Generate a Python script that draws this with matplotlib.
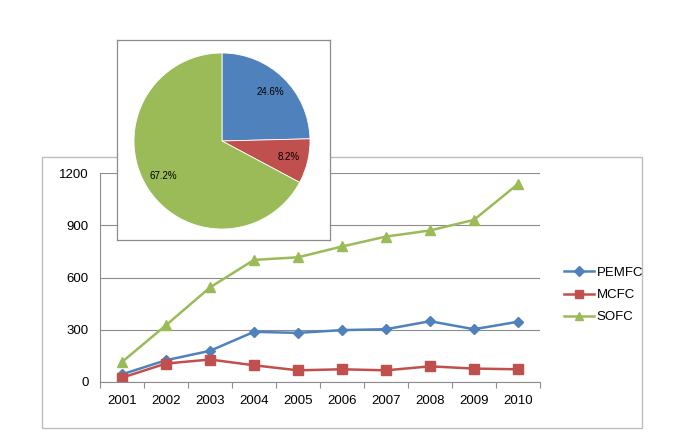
import matplotlib.pyplot as plt
from matplotlib.lines import Line2D
from matplotlib.patches import Rectangle

years = ["2001", "2002", "2003", "2004", "2005", "2006", "2007", "2008", "2009", "2010"]
pemfc = [44, 125, 179, 288, 282, 298, 303, 349, 303, 346]
mcfc = [25, 106, 129, 96, 67, 73, 67, 90, 77, 73]
sofc = [115, 326, 543, 701, 716, 778, 835, 870, 931, 1137]

pie_labels = ["PEMFC", "MCFC", "SOFC"]
pie_shares = [24.6, 8.2, 67.2]

BLUE = "#4f81bd"
RED = "#c0504d"
GREEN = "#9bbb59"
W, H = 674, 443

plt.rcParams["font.family"] = ["Liberation Sans", "DejaVu Sans"]

fig = plt.figure(figsize=(W / 100, H / 100), dpi=100)


def fx(px):
    return px / W


def fy(py):
    return 1 - py / H


# outer chart frame, kept behind the inset pie box
fig.patches.append(Rectangle((fx(42), fy(428)), fx(642) - fx(42), fy(157) - fy(428),
                             transform=fig.transFigure, fill=False, edgecolor="#bdbdbd",
                             lw=1.0, zorder=-1))

ax = fig.add_axes([fx(100), fy(382), fx(540) - fx(100), fy(173) - fy(382)])
ax.patch.set_alpha(0)
x = list(range(len(years)))
ax.plot(x, pemfc, color=BLUE, lw=1.8, marker="D", ms=5.5, label="PEMFC")
ax.plot(x, mcfc, color=RED, lw=1.8, marker="s", ms=6.5, label="MCFC")
ax.plot(x, sofc, color=GREEN, lw=1.8, marker="^", ms=6.5, label="SOFC")

ax.set_xlim(-0.5, len(years) - 0.5)
ax.set_ylim(0, 1200)
ax.set_yticks([0, 300, 600, 900, 1200])
ax.yaxis.grid(True, color="#8c8c8c", lw=0.8)
ax.set_axisbelow(True)
ax.set_xticks([i - 0.5 for i in range(len(years) + 1)])
ax.set_xticklabels([])
ax.set_xticks(x, minor=True)
ax.set_xticklabels(years, minor=True)
ax.tick_params(axis="x", which="major", length=4, color="#8c8c8c", direction="out")
ax.tick_params(axis="x", which="minor", length=0, pad=9, labelsize=9.5)
ax.tick_params(axis="y", length=0, pad=8, labelsize=9.5)
for side in ["top", "right"]:
    ax.spines[side].set_visible(False)
for side in ["left", "bottom"]:
    ax.spines[side].set_color("#8c8c8c")

handles = [
    Line2D([], [], color=BLUE, lw=1.8, marker="D", ms=5),
    Line2D([], [], color=RED, lw=1.8, marker="s", ms=6),
    Line2D([], [], color=GREEN, lw=1.8, marker="^", ms=6),
]
fig.legend(handles, ["PEMFC", "MCFC", "SOFC"], loc="center left",
           bbox_to_anchor=(fx(552), fy(295)), frameon=False, fontsize=9.5,
           handlelength=2.3, handletextpad=0.2, labelspacing=0.75)

# inset pie
pax = fig.add_axes([fx(117), fy(240), fx(330) - fx(117), fy(40) - fy(240)])
wedges, texts, autotexts = pax.pie(
    pie_shares, colors=[BLUE, RED, GREEN], startangle=90, counterclock=False,
    autopct="%.1f%%", pctdistance=0.78,
    wedgeprops={"edgecolor": "white", "linewidth": 0.6},
    textprops={"fontsize": 7, "color": "black"},
)
pax.set_frame_on(True)
pax.set_facecolor("white")
pax.set_aspect("auto")
pax.set_xlim((117 - 222) / 88, (330 - 222) / 88)
pax.set_ylim((141 - 240) / 88, (141 - 40) / 88)
pax.set_xticks([])
pax.set_yticks([])
for s in pax.spines.values():
    s.set_visible(True)
    s.set_color("#8c8c8c")
    s.set_linewidth(0.9)

fig.savefig("out.png", dpi=100)
